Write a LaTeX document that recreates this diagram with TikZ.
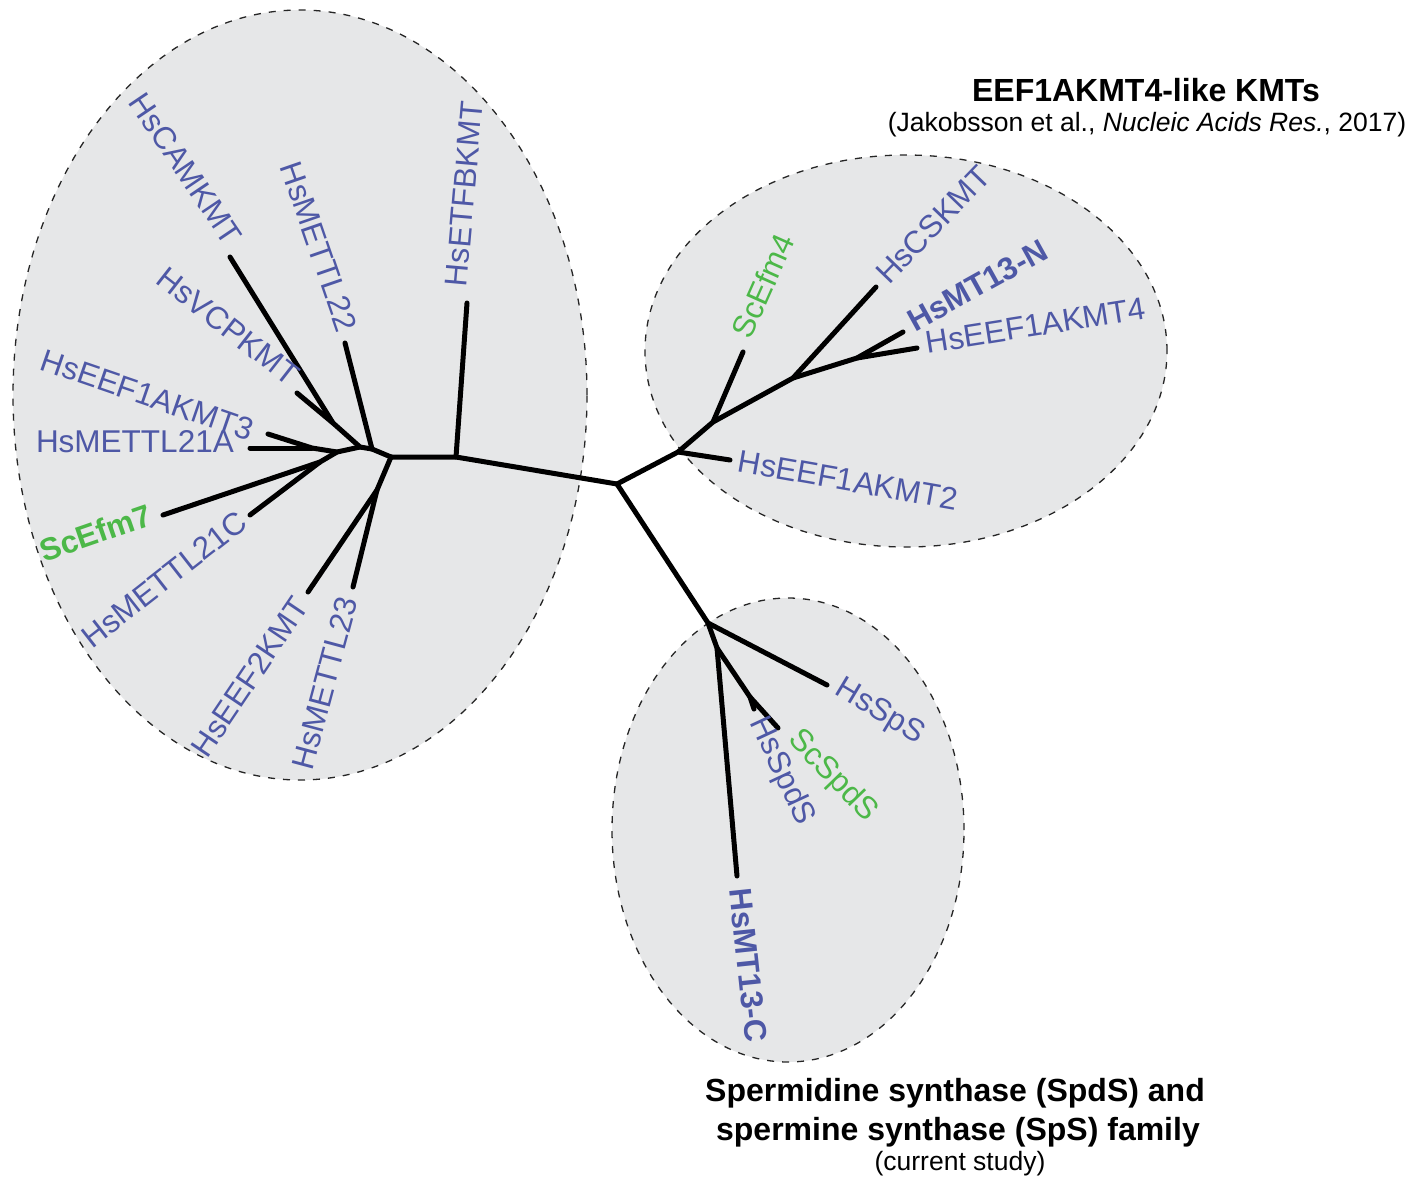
\documentclass[tikz,border=0pt]{standalone}
\usepackage{fontspec}
\setmainfont{Liberation Sans}
\definecolor{lblue}{RGB}{78,88,166}
\definecolor{lgreen}{RGB}{76,184,72}
\definecolor{clfill}{RGB}{230,231,232}
\begin{document}
\begin{tikzpicture}[x=1pt,y=-1pt,
  branch/.style={line width=5pt, line cap=round, line join=round},
  clade/.style={fill=clfill, draw=black!85, line width=1.3pt, dash pattern=on 7pt off 8pt},
  lab/.style={inner sep=0pt, font=\fontsize{31.5}{36}\selectfont, text=lblue},
  labb/.style={lab, font=\fontsize{31.5}{36}\selectfont\bfseries},
  labg/.style={lab, text=lgreen},
  labgb/.style={labb, text=lgreen},
  ttl/.style={inner sep=0pt, anchor=base, font=\fontsize{32}{38}\selectfont\bfseries},
  sub/.style={inner sep=0pt, anchor=base, font=\fontsize{26.5}{32}\selectfont},
]
\useasboundingbox (0,0) rectangle (1412,1178);

% clades
\path[clade] (300,395) ellipse [x radius=287pt, y radius=385pt];
\path[clade] (906,351) ellipse [x radius=261pt, y radius=196pt];
\path[clade] (788,830) ellipse [x radius=176pt, y radius=232pt];

% coordinates
\coordinate (R) at (617,484);
\coordinate (L1) at (456,457);
\coordinate (tETF) at (467,303);
\coordinate (L2) at (391,457);
\coordinate (L3) at (377,490);
\coordinate (tEEF2) at (308,592);
\coordinate (tM23) at (353,587);
\coordinate (L4) at (372,449);
\coordinate (tM22) at (345,343);
\coordinate (L5) at (360,447);
\coordinate (L6) at (333,423);
\coordinate (tCAM) at (230,257);
\coordinate (tVCP) at (297,393);
\coordinate (L7) at (337,452);
\coordinate (L8) at (312,448);
\coordinate (tE3) at (268,434);
\coordinate (tM21A) at (250,448);
\coordinate (L9) at (320,462);
\coordinate (tEfm7) at (163,515);
\coordinate (tM21C) at (250,515);

\coordinate (N1) at (678,452);
\coordinate (tE2) at (730,460);
\coordinate (N2) at (713,422);
\coordinate (tEfm4) at (743,352);
\coordinate (N3) at (793,378);
\coordinate (tCSK) at (876,287);
\coordinate (N4) at (857,358);
\coordinate (tMT13N) at (903,332);
\coordinate (tE4) at (917,348);

\coordinate (B1) at (708,623);
\coordinate (tSpS) at (827,685);
\coordinate (B2) at (717,648);
\coordinate (tMT13C) at (737,876);
\coordinate (B3) at (750,697);
\coordinate (tSpdS) at (754,709);
\coordinate (tScSpdS) at (778,728);

% branches
\draw[branch] (R) -- (L1) -- (L2);
\draw[branch] (L1) -- (tETF);
\draw[branch] (L2) -- (L3) -- (tEEF2);
\draw[branch] (L3) -- (tM23);
\draw[branch] (L2) -- (L4) -- (tM22);
\draw[branch] (L4) -- (L5) -- (L6) -- (tCAM);
\draw[branch] (L6) -- (tVCP);
\draw[branch] (L5) -- (L7) -- (L8) -- (tE3);
\draw[branch] (L8) -- (tM21A);
\draw[branch] (L7) -- (L9) -- (tEfm7);
\draw[branch] (L9) -- (tM21C);

\draw[branch] (R) -- (N1) -- (tE2);
\draw[branch] (N1) -- (N2) -- (tEfm4);
\draw[branch] (N2) -- (N3) -- (tCSK);
\draw[branch] (N3) -- (N4) -- (tMT13N);
\draw[branch] (N4) -- (tE4);

\draw[branch] (R) -- (B1) -- (tSpS);
\draw[branch] (B1) -- (B2) -- (tMT13C);
\draw[branch] (B2) -- (B3) -- (tSpdS);
\draw[branch] (B3) -- (tScSpdS);

% labels
\node[lab, anchor=mid east, rotate=-56] (lCAM) at (228,246) {HsCAMKMT};
\node[lab, anchor=mid east, rotate=-71] (lM22) at (340,333) {HsMETTL22};
\node[lab, anchor=mid west, rotate=85] (lETF) at (464,287) {HsETFBKMT};
\node[lab, anchor=mid east, rotate=-38] (lVCP) at (290,385) {HsVCPKMT};
\node[lab, anchor=mid east, rotate=-19] (lE3) at (250,439) {HsEEF1AKMT3};
\node[lab, anchor=mid east] (lM21A) at (234,450) {HsMETTL21A};
\node[labgb, anchor=mid east, rotate=19] (lEfm7) at (153,522) {ScEfm7};
\node[lab, anchor=mid east, rotate=38] (lM21C) at (248,524) {HsMETTL21C};
\node[lab, anchor=mid east, rotate=56] (lEEF2) at (308,605) {HsEEF2KMT};
\node[lab, anchor=mid east, rotate=75] (lM23) at (356,600) {HsMETTL23};

\node[labg, anchor=mid west, rotate=66] (lEfm4) at (748,340) {ScEfm4};
\node[lab, anchor=mid west, rotate=46] (lCSK) at (887,284) {HsCSKMT};
\node[labb, anchor=mid west, rotate=29] (lMT13N) at (914,330) {HsMT13-N};
\node[lab, anchor=mid west, rotate=9] (lE4) at (927,351) {HsEEF1AKMT4};
\node[lab, anchor=mid west, rotate=-10] (lE2) at (737,469) {HsEEF1AKMT2};

\node[lab, anchor=mid west, rotate=-31] (lSpS) at (835,691) {HsSpS};
\node[lab, anchor=mid west, rotate=-65] (lSpdS) at (752,721) {HsSpdS};
\node[labg, anchor=mid west, rotate=-46] (lScSpdS) at (789,739) {ScSpdS};
\node[labb, anchor=mid west, rotate=-84] (lMT13C) at (732,889) {HsMT13-C};

% titles
\node[ttl] (t1) at (1146,101) {EEF1AKMT4-like KMTs};
\node[sub] (t1s) at (1147,131) {(Jakobsson et al., \textit{Nucleic Acids Res.}, 2017)};
\node[ttl] (t2) at (955,1101) {Spermidine synthase (SpdS) and};
\node[ttl] (t2b) at (958,1140) {spermine synthase (SpS) family};
\node[sub] (t2s) at (960,1170) {(current study)};
\end{tikzpicture}
\end{document}
